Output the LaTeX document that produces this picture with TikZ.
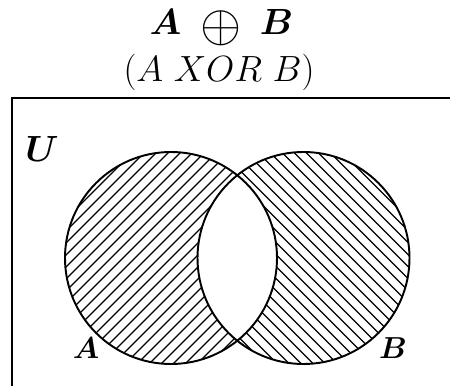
\documentclass[tikz,border=0pt]{standalone}
\usepackage{amsmath}
\usepackage{bm}

\begin{document}
\begin{tikzpicture}[
    line width=1.1pt,
    hatch/.style={line width=0.65pt},
    lbl/.style={font=\fontsize{20}{24}\selectfont, inner sep=0pt, anchor=base},
    setlbl/.style={lbl, font=\fontsize{17.5}{21}\selectfont}
]
    \useasboundingbox (0,0) rectangle (9,7.7);
    \clip (0,0) rectangle (9,7.7);

    % Titulo
    \node[lbl] (title) at (4.43,7.0) {$\bm{A}\ \mathbin{\raisebox{-3.5pt}{\scalebox{1.45}{$\oplus$}}}\ \bm{B}$};
    \node[lbl] (subtitle) at (4.38,6.06) {$(A\ XOR\ B)$};

    % Universo
    \draw (0.24,-1) rectangle (10,5.74);
    \node[lbl] (U) at (0.84,4.46) {$\bm{U}$};

    % Conjuntos
    \coordinate (cA) at (3.42,2.54);
    \coordinate (cB) at (6.07,2.54);

    % Hachuras de A (sem B)
    \begin{scope}
        \clip (cA) circle (2.12);
        \foreach \k in {-14,...,14}
            \draw[hatch, shift={(cA)}] (-2.3,\k*0.24-2.3) -- ++(4.6,4.6);
    \end{scope}
    % Hachuras de B (sem A)
    \begin{scope}
        \clip (cB) circle (2.12);
        \foreach \k in {-14,...,14}
            \draw[hatch, shift={(cB)}] (-2.3,\k*0.24+2.3) -- ++(4.6,-4.6);
    \end{scope}
    % Intersecao em branco
    \begin{scope}
        \clip (cA) circle (2.12);
        \fill[white] (cB) circle (2.12);
    \end{scope}
    \draw (cA) circle (2.12);
    \draw (cB) circle (2.12);

    \node[setlbl] (A) at (1.72,0.54) {$\bm{A}$};
    \node[setlbl] (B) at (7.86,0.54) {$\bm{B}$};
\end{tikzpicture}
\end{document}
